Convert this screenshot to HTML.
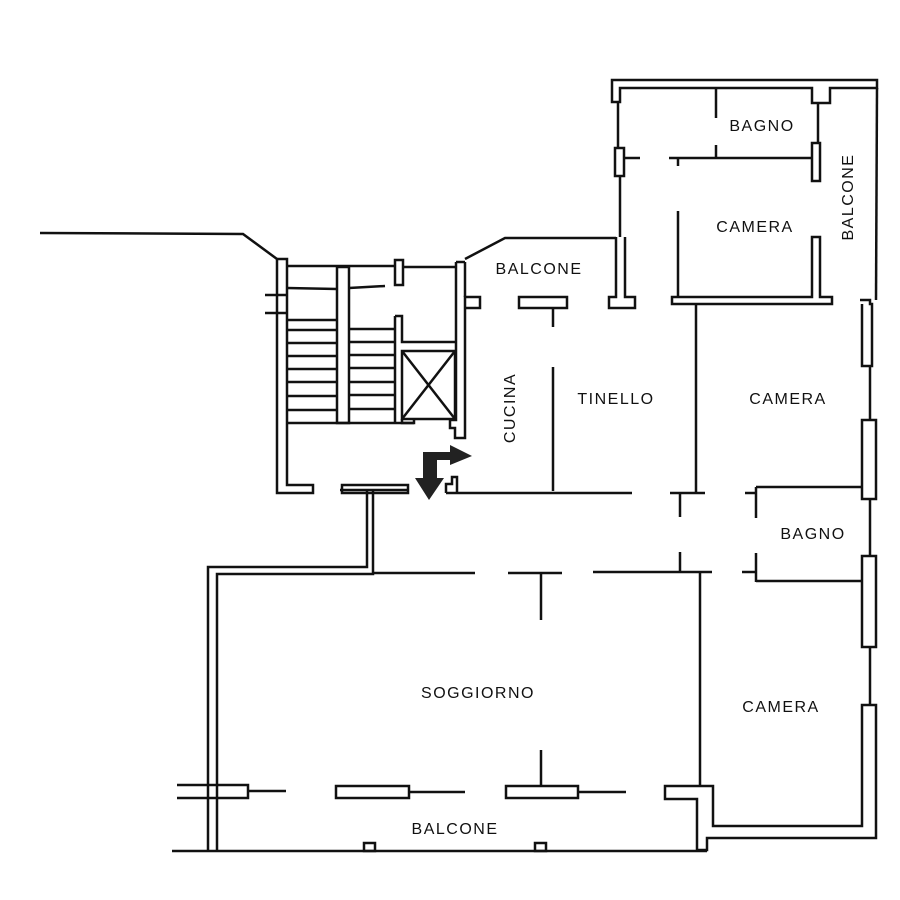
<!DOCTYPE html>
<html><head><meta charset="utf-8"><style>
html,body{margin:0;padding:0;background:#fff;}
svg{display:block}
text{font-family:"Liberation Sans",sans-serif;font-size:16px;letter-spacing:1.5px;fill:#111}
</style></head><body>
<svg width="900" height="900" viewBox="0 0 900 900" xmlns="http://www.w3.org/2000/svg">
<g fill="none" stroke="#111" stroke-width="2.5" stroke-linecap="butt">
<!-- top-left outside line -->
<polyline points="40,233 243,234 277,259"/>
<!-- staircase outer wall -->
<path d="M277,259 H287 V485 H313 V493 H277 Z"/>
<line x1="265" y1="295" x2="287" y2="295"/>
<line x1="265" y1="313" x2="287" y2="313"/>
<line x1="287" y1="266" x2="395" y2="266"/>
<rect x="395" y="260" width="8" height="25"/>
<!-- stair middle -->
<rect x="337" y="267" width="12" height="156"/>
<line x1="287" y1="288" x2="337" y2="289"/>
<line x1="349" y1="288" x2="385" y2="286"/>
<line x1="287" y1="320" x2="337" y2="320"/>
<line x1="287" y1="330" x2="337" y2="330"/>
<line x1="287" y1="343" x2="337" y2="343"/>
<line x1="287" y1="356" x2="337" y2="356"/>
<line x1="287" y1="369" x2="337" y2="369"/>
<line x1="287" y1="382" x2="337" y2="382"/>
<line x1="287" y1="396" x2="337" y2="396"/>
<line x1="287" y1="410" x2="337" y2="410"/>
<line x1="349" y1="329" x2="395" y2="329"/>
<line x1="349" y1="342" x2="395" y2="342"/>
<line x1="349" y1="355" x2="395" y2="355"/>
<line x1="349" y1="368" x2="395" y2="368"/>
<line x1="349" y1="382" x2="395" y2="382"/>
<line x1="349" y1="395" x2="395" y2="395"/>
<line x1="349" y1="409" x2="395" y2="409"/>
<line x1="287" y1="423" x2="414" y2="423"/>
<path d="M395,316 H402 V342 H455"/>
<line x1="402" y1="267" x2="455" y2="267"/>
<line x1="395" y1="316" x2="395" y2="423"/>
<rect x="402" y="351" width="53" height="68"/>
<line x1="402" y1="351" x2="455" y2="419"/>
<line x1="455" y1="351" x2="402" y2="419"/>
<path d="M402,419 V423 H414 V418"/>
<!-- cucina left wall -->
<path d="M456,262 V420 H450 V428 H455 V438 H465 V297 H480 V308 H465"/>
<line x1="465" y1="262" x2="465" y2="297"/>
<line x1="456" y1="262" x2="465" y2="262"/>
<polyline points="465,259 505,238 616,238"/>
<path d="M446,493 V484 H452 V477 H457 V493"/>
<line x1="446" y1="493" x2="632" y2="493"/>
<!-- kitchen / tinello -->
<rect x="519" y="297" width="48" height="11"/>
<line x1="553" y1="308" x2="553" y2="327"/>
<line x1="553" y1="367" x2="553" y2="491"/>
<path d="M616,237 V297 H609 V308 H635 V297 H625 V237"/>
<line x1="620" y1="237" x2="620" y2="176"/>
<!-- upper block -->
<path d="M612,80 H877 V88 H830 V103 H812 V88 H620 V102 H612 Z"/>
<line x1="877" y1="88" x2="876" y2="300"/>
<line x1="618" y1="102" x2="618" y2="148"/>
<rect x="615" y="148" width="9" height="28"/>
<line x1="624" y1="158" x2="640" y2="158"/>
<line x1="716" y1="88" x2="716" y2="118"/>
<line x1="716" y1="145" x2="716" y2="158"/>
<line x1="669" y1="158" x2="812" y2="158"/>
<line x1="818" y1="103" x2="818" y2="143"/>
<rect x="812" y="143" width="8" height="38"/>
<line x1="678" y1="158" x2="678" y2="166"/>
<line x1="678" y1="211" x2="678" y2="297"/>
<path d="M812,237 H820 V297 H832 V304 H672 V297 H812 Z"/>
<line x1="696" y1="304" x2="696" y2="493"/>
<line x1="670" y1="493" x2="705" y2="493"/>
<line x1="680" y1="493" x2="680" y2="517"/>
<line x1="680" y1="552" x2="680" y2="572"/>
<!-- right side -->
<path d="M860,300 H870 V304 H872 V366 H862 V304" />
<rect x="862" y="420" width="14" height="79"/>
<line x1="870" y1="366" x2="870" y2="420"/>
<line x1="870" y1="499" x2="870" y2="556"/>
<rect x="862" y="556" width="14" height="91"/>
<line x1="870" y1="647" x2="870" y2="705"/>
<!-- bagno -->
<line x1="756" y1="487" x2="862" y2="487"/>
<line x1="756" y1="487" x2="756" y2="518"/>
<line x1="745" y1="493" x2="756" y2="493"/>
<line x1="756" y1="553" x2="756" y2="582"/>
<line x1="742" y1="572" x2="756" y2="572"/>
<line x1="756" y1="581" x2="862" y2="581"/>
<!-- lower camera -->
<line x1="700" y1="573" x2="700" y2="787"/>
<path d="M862,705 H876 V838 H707 V850 H697 V799 H665 V786 H713 V826 H862 Z"/>
<!-- soggiorno -->
<path d="M208,850 V567 H367 V490"/>
<path d="M217,850 V574 H373 V490"/>
<line x1="340" y1="490" x2="408" y2="490"/>
<rect x="342" y="485" width="66" height="8"/>
<line x1="373" y1="573" x2="475" y2="573"/>
<line x1="508" y1="573" x2="562" y2="573"/>
<line x1="541" y1="573" x2="541" y2="620"/>
<line x1="593" y1="572" x2="712" y2="572"/>
<line x1="541" y1="750" x2="541" y2="786"/>
<path d="M177,785 H248 V798 H177"/>
<line x1="248" y1="791" x2="286" y2="791"/>
<rect x="336" y="786" width="73" height="12"/>
<line x1="409" y1="792" x2="465" y2="792"/>
<rect x="506" y="786" width="72" height="12"/>
<line x1="578" y1="792" x2="626" y2="792"/>
<line x1="172" y1="851" x2="707" y2="851"/>
<rect x="364" y="843" width="11" height="8"/>
<rect x="535" y="843" width="11" height="8"/>
</g>
<!-- arrows -->
<g fill="#222">
<polygon points="423,452 437,452 437,478 444,478 429,500 415,478 423,478"/>
<polygon points="430,452 450,452 450,445 472,456 450,465 450,460 437,460 437,466 430,466"/>
</g>
<text x="539" y="274" text-anchor="middle">BALCONE</text>
<text x="616" y="404" text-anchor="middle">TINELLO</text>
<text x="788" y="404" text-anchor="middle">CAMERA</text>
<text x="813" y="539" text-anchor="middle">BAGNO</text>
<text x="781" y="712" text-anchor="middle">CAMERA</text>
<text x="478" y="698" text-anchor="middle">SOGGIORNO</text>
<text x="455" y="834" text-anchor="middle">BALCONE</text>
<text x="762" y="131" text-anchor="middle">BAGNO</text>
<text x="755" y="232" text-anchor="middle">CAMERA</text>
<text transform="translate(515,408) rotate(-90)" text-anchor="middle">CUCINA</text>
<text transform="translate(853,197) rotate(-90)" text-anchor="middle">BALCONE</text>
</svg>
</body></html>
